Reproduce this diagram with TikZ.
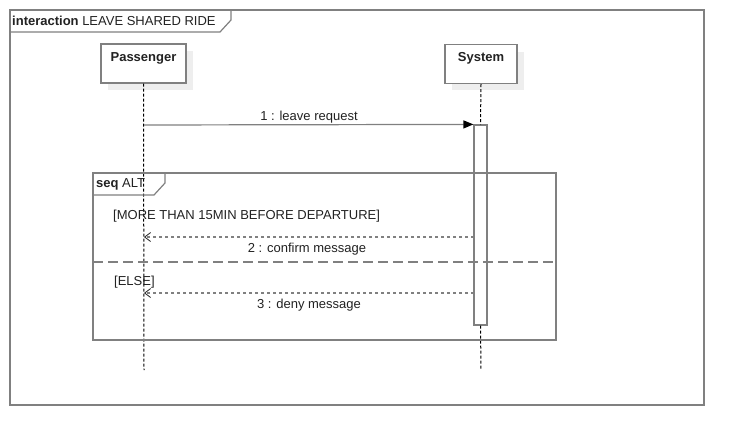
\documentclass[tikz,border=0pt]{standalone}
\usepackage{fontspec}
\setmainfont{Liberation Sans}
\usetikzlibrary{arrows.meta}
\definecolor{ln}{HTML}{808080}
\definecolor{tx}{HTML}{222222}
\definecolor{shd}{HTML}{EEEEEE}
\tikzset{
  lbl/.style={font=\fontsize{13}{15}\selectfont, text=tx, inner sep=0pt},
  headbox/.style={draw=ln, line width=1.2pt, fill=white, minimum width=85pt, minimum height=39pt, inner sep=0pt},
  shadowbox/.style={fill=shd},
  lifeline/.style={draw=black, line width=1pt, dash pattern=on 3pt off 2pt},
  actbox/.style={draw=ln, line width=1.2pt, fill=white, minimum width=13pt, minimum height=200pt, inner sep=0pt},
  frameline/.style={draw=ln, line width=1.2pt},
  callmsg/.style={draw=ln, line width=1.2pt, -{Triangle[length=10pt,width=8pt,fill=black,color=black]}},
  retmsg/.style={draw=ln, line width=1.2pt, dash pattern=on 3pt off 3pt, -{Straight Barb[length=6pt,width=9pt,color=tx,line width=0.8pt]}},
  sepline/.style={draw=ln, line width=1.4pt, dash pattern=on 10pt off 5pt}
}
\begin{document}
\begin{tikzpicture}[x=1pt,y=-1pt]
\useasboundingbox (0,0) rectangle (744,445);
\fill[white] (0,0) rectangle (744,445);
% outer frame
\draw[frameline] (10,10) rectangle (704,405);
\draw[frameline] (10,32) -- (220,32) -- (231,20) -- (231,10);
\node[lbl, anchor=west] (title) at (12,21) {\textbf{interaction} LEAVE SHARED RIDE};
% lifeline heads
\fill[shadowbox] (108,51) rectangle (193,90);
\fill[shadowbox] (452,52) rectangle (524,90);
\node[headbox] (pass) at (143.5,63.5) {};
\node[headbox, minimum width=72pt] (sys) at (481,64) {};
\node[lbl, font=\fontsize{13}{15}\selectfont\bfseries] (passlbl) at (143.5,58) {Passenger};
\node[lbl, font=\fontsize{13}{15}\selectfont\bfseries] (syslbl) at (481,58) {System};
% coordinates
\coordinate (passend) at (144,370);
\coordinate (sysend) at (481,370);
% activation
\node[actbox] (act) at (480.5,225) {};
% lifelines
\draw[lifeline] (pass.south) -- (passend);
\draw[lifeline] (sys.south) -- (act.north);
\draw[lifeline] (act.south) -- (sysend);
% message 1
\coordinate (m1s) at (144,125);
\draw[callmsg] (m1s) -- (act.north west);
\node[lbl] (m1lbl) at (309,117) {1 : leave request};
% alt fragment
\draw[frameline] (93,173) rectangle (556,340);
\draw[frameline] (93,195) -- (154,195) -- (165,183) -- (165,173);
\node[lbl, anchor=west] (alttitle) at (96,184) {\textbf{seq} ALT};
\node[lbl, anchor=west] (guard1) at (113,216) {[MORE THAN 15MIN BEFORE DEPARTURE]};
\coordinate (m2s) at (474,237);
\coordinate (m2e) at (144,237);
\draw[retmsg] (m2s) -- (m2e);
\node[lbl] (m2lbl) at (307,249) {2 : confirm message};
\coordinate (sepl) at (93,262);
\coordinate (sepr) at (556,262);
\draw[sepline] (sepl) -- (sepr);
\node[lbl, anchor=west] (guard2) at (114,282) {[ELSE]};
\coordinate (m3s) at (474,293);
\coordinate (m3e) at (144,293);
\draw[retmsg] (m3s) -- (m3e);
\node[lbl] (m3lbl) at (309,305) {3 : deny message};
\end{tikzpicture}
\end{document}
